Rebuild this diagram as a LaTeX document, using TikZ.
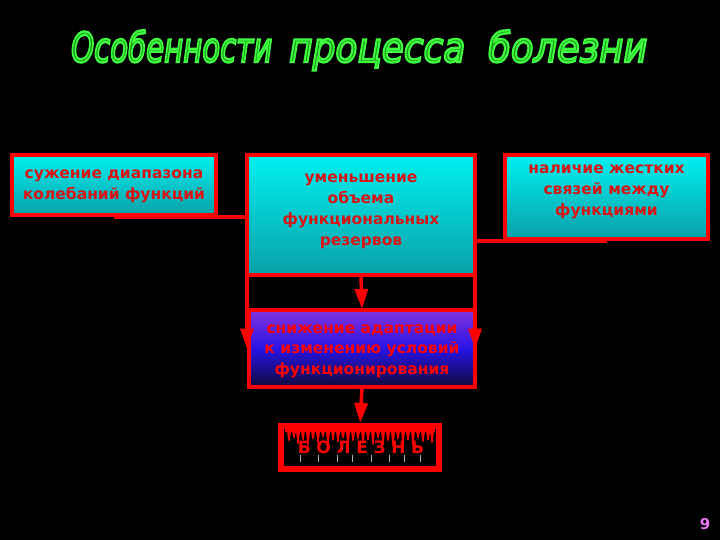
\documentclass[tikz,border=0pt]{standalone}
\usepackage{fontspec}
\setmainfont{DejaVu Sans}
\newfontfamily\titlefont{DejaVu Sans}
\usetikzlibrary{arrows.meta}
\definecolor{boxred}{RGB}{214,22,22}
\definecolor{bred}{RGB}{255,0,0}
\definecolor{cyantop}{RGB}{0,240,240}
\definecolor{cyanbot}{RGB}{10,160,168}
\definecolor{adtop}{RGB}{130,50,220}
\definecolor{admid}{RGB}{40,20,230}
\definecolor{adbot}{RGB}{15,10,60}
\definecolor{titlegreen}{RGB}{25,150,25}
\definecolor{pagepink}{RGB}{230,120,240}
\newcommand{\outlineon}{\special{pdf:literal direct 0.25 1 0.25 RG 2 Tr 0.55 w}}
\newcommand{\outlineoff}{\special{pdf:literal direct 0 Tr}}
\newcommand{\tw}[2]{\resizebox{#1}{32pt}{\outlineon\vphantom{Об}#2\outlineoff}}
\begin{document}
\begin{tikzpicture}[x=1pt,y=-1pt,
 box/.style={draw=bred, line width=4pt, outer sep=0pt, inner sep=0pt},
 cyanbox/.style={box, top color=cyantop, bottom color=cyanbot},
 boxtext/.style={align=center, inner sep=0pt, text=boxred,
   font=\bfseries\fontsize{15.5}{21}\selectfont},
 conn/.style={draw=bred, line width=3.5pt},
 arr/.style={conn, -{Triangle[width=13pt,length=20pt]}},
]
\fill[black] (0,0) rectangle (720,540);
\useasboundingbox (0,0) rectangle (720,540);

% title
\node[anchor=base west, text=titlegreen, inner sep=0pt] (title) at (71,62)
  {\titlefont\itshape\tw{201pt}{Особенности}\hspace{17pt}\tw{176pt}{процесса}\hspace{23pt}\tw{159pt}{болезни}};

% boxes
\node[cyanbox, minimum width=204pt, minimum height=60pt] (b1) at (114,185) {};
\node[boxtext] (t1) at (114,186) {сужение диапазона\\колебаний функций};
\node[cyanbox, minimum width=228pt, minimum height=120pt] (b2) at (361,215) {};
\node[boxtext] (t2) at (361,211) {уменьшение\\объема\\функциональных\\резервов};
\node[cyanbox, minimum width=203pt, minimum height=84pt] (b3) at (606.5,197) {};
\node[boxtext] (t3) at (606.5,192) {наличие жестких\\связей между\\функциями};
\node[box, minimum width=226pt, minimum height=77pt,
  top color=adtop, bottom color=adbot, middle color=admid] (ad) at (362,348.5) {};
\node[boxtext, text=red, font=\bfseries\fontsize{15.5}{20.5}\selectfont] (t4) at (362,351)
  {снижение адаптации\\к изменению условий\\функционирования};

% connectors
\draw[conn] ([yshift=-2pt]b1.south) -- ([yshift=-2pt]b1.south -| b2.west);
\draw[conn] ([yshift=-2pt]b3.south) -- ([yshift=-2pt]b3.south -| b2.east);
\draw[arr] (b2.south west) -- (b2.south west |- ad.east);
\draw[arr] (b2.south east) -- (b2.south east |- ad.east);
\draw[arr, shorten >=1pt] (b2.south) -- (ad.north);

% bolezn box
\node[draw=bred, line width=6pt, fill=black, outer sep=0pt, inner sep=0pt,
  minimum width=158pt, minimum height=43pt] (bz) at (360,447.5) {};
\draw[arr, shorten >=3pt] (ad.south) -- (bz.north);
\fill[bred] (285,429) rectangle (435,432);
\foreach \x/\l in {289/10,294/7,298/13,303/9,308/15,313/8,318/12,323/6,328/14,333/9,
  338/11,343/7,348/15,353/10,358/8,363/13,368/9,373/14,378/7,383/12,388/10,393/15,
  398/8,403/12,408/9,413/14,418/7,423/11,428/9,432/12}{
  \fill[bred] (\x-2,431) -- (\x+2,431) -- (\x+0.6,431+\l) -- (\x-0.6,431+\l) -- cycle;
}
\foreach \x in {300,318,337,352,371,389,404,420}{
  \draw[gray!60, line width=0.6pt] (\x,455) -- (\x,462);
}
\node[text=bred, font=\bfseries\fontsize{17}{17}\selectfont, inner sep=0pt, anchor=base]
  (bzt) at (361,453) {Б\,\,О\,\,Л\,\,Е\,\,З\,\,Н\,\,Ь};

% page number
\node[text=pagepink, font=\bfseries\fontsize{15}{15}\selectfont] (pg) at (705,524) {9};
\end{tikzpicture}
\end{document}
